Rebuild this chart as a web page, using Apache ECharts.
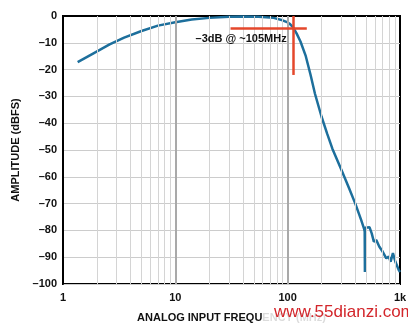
<!DOCTYPE html>
<html lang="en">
<head>
    <meta charset="UTF-8">
    <title>Amplitude vs frequency</title>
    <script src="https://cdn.jsdelivr.net/npm/echarts@6.0.0/dist/echarts.min.js"></script>
    <style>
        body { margin: 0; background: #fff; }
    </style>
</head>
<body>
    <div id="main" style="width: 408px;height:324px;"></div>
    <script type="text/javascript">
        // frequency (MHz) and amplitude (dBFS)
        const freqs = [1.35, 1.8, 2.6, 3.5, 5, 7, 10, 14, 20, 30, 40, 55, 75, 90, 100, 105, 112, 120, 130, 145, 160, 175, 200, 225, 250, 300, 350, 400, 450, 480, 485, 487, 490, 505, 535, 560, 585, 615, 655, 700, 755, 795, 825, 865, 910, 975, 1000]
        const amps = [-17.2, -14.3, -10.6, -8.1, -5.6, -3.6, -2.3, -1.3, -0.7, -0.3, -0.2, -0.3, -0.7, -1.6, -2.4, -3.0, -4.3, -6.5, -9.5, -15, -22, -29, -37.5, -44, -49.5, -57.3, -64, -70, -76, -79.5, -80.5, -95.5, -79, -78.3, -78.8, -81.1, -84.2, -83.6, -86.1, -87.9, -90.4, -89.8, -91.7, -88.5, -91.7, -94.8, -95.5]

        // grid lines on the log axis
        const majorFreqs = [10, 100]
        const minorFreqs = [2, 3, 4, 5, 6, 7, 8, 9, 20, 30, 40, 50, 60, 70, 80, 90, 200, 300, 400, 500, 600, 700, 800, 900]

        // red -3dB crosshair
        const crossY = -4.4
        const crossX = 112
        const crossLabel = '–3dB @ ~105MHz'

        const font = "'Liberation Sans', Arial, sans-serif"

        let options = {
            animation: false,
            grid: {
                left: 63, right: 8, top: 16, bottom: 40, outerBoundsMode: 'none',
                show: true, borderColor: '#000', borderWidth: 2
            },
            xAxis: {
                type: 'log',
                logBase: 10,
                min: 1,
                max: 1000,
                name: 'ANALOG INPUT FREQUENCY (MHz)',
                nameLocation: 'middle',
                nameGap: 28,
                nameTextStyle: { color: '#111', fontFamily: font, fontSize: 11, fontWeight: 'bold' },
                axisLine: { lineStyle: { color: '#000', width: 2 } },
                axisTick: { show: false },
                splitLine: { show: false },
                axisLabel: {
                    color: '#111', fontFamily: font, fontSize: 11, fontWeight: 'bold', margin: 8,
                    formatter: v => v >= 1000 ? '1k' : String(v)
                }
            },
            yAxis: {
                type: 'value',
                min: -100,
                max: 0,
                interval: 10,
                name: 'AMPLITUDE (dBFS)',
                nameLocation: 'middle',
                nameGap: 42,
                nameTextStyle: { color: '#111', fontFamily: font, fontSize: 11, fontWeight: 'bold' },
                axisLine: { show: true, lineStyle: { color: '#000', width: 2 } },
                axisTick: { show: false },
                splitLine: { lineStyle: { color: '#cccccc', width: 1 } },
                axisLabel: {
                    color: '#111', fontFamily: font, fontSize: 11, fontWeight: 'bold', margin: 6,
                    formatter: v => v < 0 ? '–' + Math.abs(v) : String(v)
                }
            },
            series: [
                {
                    // minor and major log grid lines
                    type: 'line',
                    data: [],
                    silent: true,
                    markLine: {
                        silent: true,
                        symbol: 'none',
                        label: { show: false },
                        data: minorFreqs.map(f => ({ xAxis: f, lineStyle: { color: '#d4d4d4', width: 1, type: 'solid' } }))
                            .concat(majorFreqs.map(f => ({ xAxis: f, lineStyle: { color: '#a9a9a9', width: 2, type: 'solid' } })))
                    }
                },
                {
                    type: 'line',
                    data: freqs.map((f, i) => [f, amps[i]]),
                    showSymbol: false,
                    lineStyle: { color: '#1d6f9c', width: 2.5 },
                    itemStyle: { color: '#1d6f9c' },
                    z: 3
                },
                {
                    // crosshair and note
                    type: 'line',
                    data: [],
                    z: 4,
                    markLine: {
                        silent: true,
                        symbol: 'none',
                        label: { show: false },
                        lineStyle: { color: '#e4472b', width: 2.5, type: 'solid' },
                        data: [
                            [{ coord: [31, crossY] }, { coord: [148, crossY] }],
                            [{ coord: [crossX, 0] }, { coord: [crossX, -22] }]
                        ]
                    },
                    markPoint: {
                        silent: true,
                        symbolSize: 0,
                        label: {
                            show: true, formatter: crossLabel, color: '#111',
                            fontFamily: font, fontSize: 11, fontWeight: 'bold'
                        },
                        data: [{ coord: [38.5, -8.6] }]
                    }
                }
            ],
            graphic: [
                { type: 'rect', left: 263, top: 302, shape: { width: 145, height: 22 }, style: { fill: 'rgba(255,255,255,0.85)' }, z: 10 },
                { type: 'text', left: 274, top: 304, style: { text: 'www.55dianzi.com', fill: '#d3262b', font: "17px 'Liberation Sans', Arial, sans-serif" }, z: 11 }
            ]
        };

        let myChart = echarts.init(document.getElementById('main'));
        myChart.setOption(options);
    </script>
</body>
</html>
